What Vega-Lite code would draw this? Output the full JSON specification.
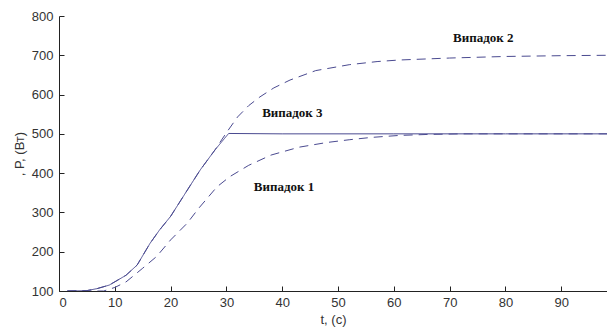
{
  "$schema": "https://vega.github.io/schema/vega-lite/v6.json",
  "width": 548,
  "height": 275,
  "autosize": {"type": "none"},
  "padding": {"left": 59, "top": 16, "right": 0, "bottom": 40},
  "background": "white",
  "config": {
    "view": {"stroke": null},
    "axis": {
      "grid": false,
      "domainColor": "#222222",
      "tickColor": "#222222",
      "tickWidth": 1,
      "labelFont": "Liberation Sans",
      "labelFontSize": 13,
      "labelColor": "#333333",
      "titleFont": "Liberation Sans",
      "titleFontSize": 13,
      "titleFontWeight": "normal",
      "titleColor": "#333333"
    }
  },
  "datasets": {
    "curves": [
      {"series": "Випадок 3", "t": 1.5, "p": 100},
      {"series": "Випадок 3", "t": 5, "p": 101},
      {"series": "Випадок 3", "t": 6.8, "p": 106},
      {"series": "Випадок 3", "t": 9, "p": 115},
      {"series": "Випадок 3", "t": 12, "p": 140},
      {"series": "Випадок 3", "t": 14, "p": 166},
      {"series": "Випадок 3", "t": 16.3, "p": 221},
      {"series": "Випадок 3", "t": 18, "p": 255},
      {"series": "Випадок 3", "t": 20, "p": 290},
      {"series": "Випадок 3", "t": 23, "p": 357},
      {"series": "Випадок 3", "t": 25.3, "p": 408},
      {"series": "Випадок 3", "t": 28, "p": 460},
      {"series": "Випадок 3", "t": 30.4, "p": 501},
      {"series": "Випадок 3", "t": 40, "p": 500},
      {"series": "Випадок 3", "t": 60, "p": 500},
      {"series": "Випадок 3", "t": 80, "p": 500},
      {"series": "Випадок 3", "t": 98.2, "p": 500},

      {"series": "Випадок 2", "t": 1.5, "p": 100},
      {"series": "Випадок 2", "t": 5, "p": 101},
      {"series": "Випадок 2", "t": 6.8, "p": 106},
      {"series": "Випадок 2", "t": 9, "p": 115},
      {"series": "Випадок 2", "t": 12, "p": 140},
      {"series": "Випадок 2", "t": 14, "p": 166},
      {"series": "Випадок 2", "t": 16.3, "p": 221},
      {"series": "Випадок 2", "t": 18, "p": 255},
      {"series": "Випадок 2", "t": 20, "p": 290},
      {"series": "Випадок 2", "t": 23, "p": 357},
      {"series": "Випадок 2", "t": 25.3, "p": 408},
      {"series": "Випадок 2", "t": 28, "p": 460},
      {"series": "Випадок 2", "t": 30, "p": 503},
      {"series": "Випадок 2", "t": 32, "p": 543},
      {"series": "Випадок 2", "t": 34, "p": 572},
      {"series": "Випадок 2", "t": 36, "p": 594},
      {"series": "Випадок 2", "t": 38.5, "p": 617},
      {"series": "Випадок 2", "t": 41.4, "p": 637},
      {"series": "Випадок 2", "t": 46, "p": 661},
      {"series": "Випадок 2", "t": 52, "p": 676},
      {"series": "Випадок 2", "t": 57, "p": 684},
      {"series": "Випадок 2", "t": 61, "p": 688},
      {"series": "Випадок 2", "t": 70, "p": 693},
      {"series": "Випадок 2", "t": 80, "p": 697},
      {"series": "Випадок 2", "t": 90, "p": 699},
      {"series": "Випадок 2", "t": 98.2, "p": 700},

      {"series": "Випадок 1", "t": 1.5, "p": 100},
      {"series": "Випадок 1", "t": 8, "p": 100},
      {"series": "Випадок 1", "t": 10, "p": 109},
      {"series": "Випадок 1", "t": 12, "p": 123},
      {"series": "Випадок 1", "t": 15, "p": 158},
      {"series": "Випадок 1", "t": 17.5, "p": 188},
      {"series": "Випадок 1", "t": 20, "p": 230},
      {"series": "Випадок 1", "t": 23, "p": 273},
      {"series": "Випадок 1", "t": 25, "p": 310},
      {"series": "Випадок 1", "t": 28.3, "p": 365},
      {"series": "Випадок 1", "t": 30.6, "p": 391},
      {"series": "Випадок 1", "t": 34, "p": 420},
      {"series": "Випадок 1", "t": 38, "p": 446},
      {"series": "Випадок 1", "t": 43, "p": 466},
      {"series": "Випадок 1", "t": 48, "p": 478},
      {"series": "Випадок 1", "t": 52, "p": 485},
      {"series": "Випадок 1", "t": 56, "p": 491},
      {"series": "Випадок 1", "t": 61, "p": 496},
      {"series": "Випадок 1", "t": 66, "p": 498.5},
      {"series": "Випадок 1", "t": 72, "p": 500},
      {"series": "Випадок 1", "t": 98.2, "p": 500}
    ],
    "labels": [
      {"label": "Випадок 3", "t": 36.4, "p": 553},
      {"label": "Випадок 2", "t": 70.6, "p": 744},
      {"label": "Випадок 1", "t": 34.9, "p": 365}
    ]
  },
  "layer": [
    {
      "data": {"name": "curves"},
      "mark": {"type": "line", "strokeWidth": 1, "color": "#4a4a90", "clip": true},
      "encoding": {
        "x": {
          "field": "t", "type": "quantitative",
          "scale": {"domain": [0, 98.2], "nice": false, "zero": false},
          "axis": {
            "title": "t, (c)",
            "orient": "bottom",
            "values": [0, 10, 20, 30, 40, 50, 60, 70, 80, 90],
            "ticks": false,
            "labelOverlap": false,
            "labelPadding": 5,
            "titlePadding": 4
          }
        },
        "y": {
          "field": "p", "type": "quantitative",
          "scale": {"domain": [100, 800], "nice": false, "zero": false},
          "axis": {
            "title": ", P, (Вт)",
            "orient": "left",
            "values": [100, 200, 300, 400, 500, 600, 700, 800],
            "ticks": false,
            "labelOverlap": false,
            "labelPadding": 6,
            "titlePadding": 5
          }
        },
        "detail": {"field": "series"},
        "strokeDash": {
          "field": "series", "type": "nominal",
          "scale": {"domain": ["Випадок 1", "Випадок 2", "Випадок 3"], "range": [[9, 6], [9, 6], [1, 0]]},
          "legend": null
        }
      }
    },
    {
      "data": {"name": "labels"},
      "mark": {"type": "text", "align": "left", "baseline": "middle", "font": "Liberation Serif", "fontWeight": "bold", "fontSize": 13, "color": "#111111"},
      "encoding": {
        "x": {
          "field": "t", "type": "quantitative",
          "axis": {
            "orient": "top",
            "offset": -275,
            "title": null,
            "labels": false,
            "domain": false,
            "ticks": true,
            "tickSize": 5,
            "values": [0, 10, 20, 30, 40, 50, 60, 70, 80, 90]
          }
        },
        "y": {
          "field": "p", "type": "quantitative",
          "axis": {
            "orient": "right",
            "offset": -548,
            "title": null,
            "labels": false,
            "domain": false,
            "ticks": true,
            "tickSize": 5,
            "values": [100, 200, 300, 400, 500, 600, 700, 800]
          }
        },
        "text": {"field": "label"}
      }
    }
  ],
  "resolve": {"axis": {"x": "independent", "y": "independent"}}
}
